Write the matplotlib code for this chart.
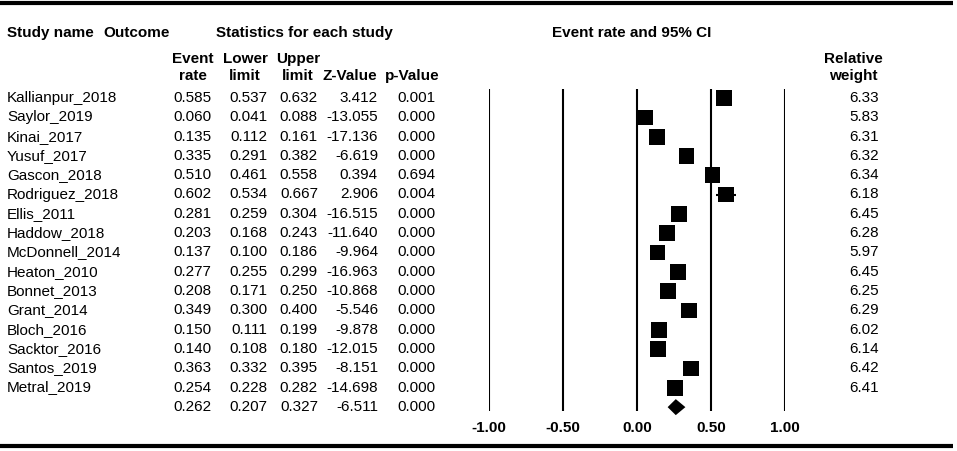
import matplotlib
matplotlib.use('Agg')
import matplotlib.pyplot as plt
from matplotlib.patches import Rectangle, Polygon

plt.rcParams['font.family'] = ['Liberation Sans', 'DejaVu Sans']

# Data
studies = ['Kallianpur_2018', 'Saylor_2019', 'Kinai_2017', 'Yusuf_2017', 'Gascon_2018',
           'Rodriguez_2018', 'Ellis_2011', 'Haddow_2018', 'McDonnell_2014', 'Heaton_2010',
           'Bonnet_2013', 'Grant_2014', 'Bloch_2016', 'Sacktor_2016', 'Santos_2019', 'Metral_2019']
event_rate = [0.585, 0.060, 0.135, 0.335, 0.510, 0.602, 0.281, 0.203, 0.137, 0.277,
              0.208, 0.349, 0.150, 0.140, 0.363, 0.254]
lower = [0.537, 0.041, 0.112, 0.291, 0.461, 0.534, 0.259, 0.168, 0.100, 0.255,
         0.171, 0.300, 0.111, 0.108, 0.332, 0.228]
upper = [0.632, 0.088, 0.161, 0.382, 0.558, 0.667, 0.304, 0.243, 0.186, 0.299,
         0.250, 0.400, 0.199, 0.180, 0.395, 0.282]
z_value = [3.412, -13.055, -17.136, -6.619, 0.394, 2.906, -16.515, -11.640, -9.964, -16.963,
           -10.868, -5.546, -9.878, -12.015, -8.151, -14.698]
p_value = [0.001, 0.000, 0.000, 0.000, 0.694, 0.004, 0.000, 0.000, 0.000, 0.000,
           0.000, 0.000, 0.000, 0.000, 0.000, 0.000]
weights = [6.33, 5.83, 6.31, 6.32, 6.34, 6.18, 6.45, 6.28, 5.97, 6.45,
           6.25, 6.29, 6.02, 6.14, 6.42, 6.41]
summary = [0.262, 0.207, 0.327, -6.511, 0.000]
ticks = [-1.0, -0.5, 0.0, 0.5, 1.0]

W, H = 957, 451
fig = plt.figure(figsize=(W / 100, H / 100), dpi=100)

# text layer in pixel coordinates
tx = fig.add_axes([0, 0, 1, 1])
tx.set_xlim(0, W)
tx.set_ylim(H, 0)
tx.axis('off')

fs = 11
tx.plot([0, 953], [3, 3], color='black', lw=3, solid_capstyle='butt')
tx.plot([0, 953], [446, 446], color='black', lw=3, solid_capstyle='butt')

hy = 33
tx.text(7, hy, 'Study name', fontsize=fs, fontweight='bold', va='center')
tx.text(103, hy, 'Outcome', fontsize=fs, fontweight='bold', va='center')
tx.text(216, hy, 'Statistics for each study', fontsize=fs, fontweight='bold', va='center')
tx.text(552, hy, 'Event rate and 95% CI', fontsize=fs, fontweight='bold', va='center')

col_c = [193, 245, 298, 350, 412]
head1 = ['Event', 'Lower', 'Upper', '', '']
head2 = ['rate', 'limit', 'limit', 'Z-Value', 'p-Value']
for cx, a, b in zip(col_c, head1, head2):
    tx.text(cx, 59, a, fontsize=fs, fontweight='bold', ha='center', va='center')
    tx.text(cx, 76, b, fontsize=fs, fontweight='bold', ha='center', va='center')
tx.text(853, 59, 'Relative', fontsize=fs, fontweight='bold', ha='center', va='center')
tx.text(853, 76, 'weight', fontsize=fs, fontweight='bold', ha='center', va='center')

row0, step = 98, 19.3
col_r = [211, 267, 318, 378, 436]
for i, name in enumerate(studies):
    y = row0 + i * step
    tx.text(7, y, name, fontsize=fs, va='center')
    vals = [f'{event_rate[i]:.3f}', f'{lower[i]:.3f}', f'{upper[i]:.3f}',
            f'{z_value[i]:.3f}', f'{p_value[i]:.3f}']
    for cx, v in zip(col_r, vals):
        tx.text(cx, y, v, fontsize=fs, ha='right', va='center')
    tx.text(879, y, f'{weights[i]:.2f}', fontsize=fs, ha='right', va='center')
ys = row0 + len(studies) * step
svals = [f'{summary[0]:.3f}', f'{summary[1]:.3f}', f'{summary[2]:.3f}',
         f'{summary[3]:.3f}', f'{summary[4]:.3f}']
for cx, v in zip(col_r, svals):
    tx.text(cx, ys, v, fontsize=fs, ha='right', va='center')

# forest plot axes: -1 at x=489, 1 at x=785; top 89, bottom 411
ax = fig.add_axes([489 / W, 1 - 411 / H, 296 / W, 322 / H])
ax.set_xlim(-1, 1)
ax.set_ylim(16.2, -0.47)
ax.axis('off')
for t in ticks:
    ax.axvline(t, color='black', lw=1.5)
    tx.text(489 + (t + 1) * 148, 428, f'{t:.2f}', fontsize=fs, fontweight='bold',
            ha='center', va='center')

# px per unit: x 148, y 19.3
for i in range(len(studies)):
    ax.plot([lower[i], upper[i]], [i, i], color='black', lw=1.5, solid_capstyle='butt')
    side = 16 * (weights[i] / 6.45) ** 0.5
    w = side / 148
    h = side / 19.3
    ax.add_patch(Rectangle((event_rate[i] - w / 2, i - h / 2), w, h,
                           facecolor='black', edgecolor='none', clip_on=False))

n = len(studies)
dh = 8 / 19.3
ax.add_patch(Polygon([(summary[1], n), (summary[0], n - dh), (summary[2], n), (summary[0], n + dh)],
                     closed=True, facecolor='black', edgecolor='none', clip_on=False))

fig.savefig('out.png', dpi=100)
